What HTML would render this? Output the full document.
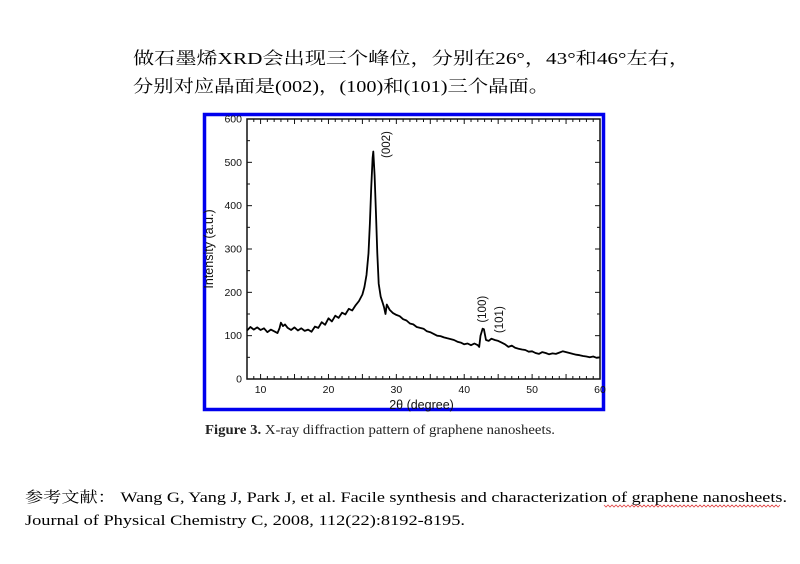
<!DOCTYPE html>
<html><head><meta charset="utf-8"><style>
html,body{margin:0;padding:0;background:#fff;width:800px;height:564px;overflow:hidden}
svg{display:block}
</style></head><body>
<svg id="page" width="800" height="564" viewBox="0 0 800 564" xmlns="http://www.w3.org/2000/svg">
<g font-family="'Liberation Serif','Noto Serif CJK SC','Noto Sans CJK SC',serif" font-size="17" fill="#000">
<text x="133" y="64" textLength="557" lengthAdjust="spacingAndGlyphs">做石墨烯XRD会出现三个峰位，分别在26°，43°和46°左右，</text>
<text x="133" y="92" textLength="416" lengthAdjust="spacingAndGlyphs">分别对应晶面是(002)，(100)和(101)三个晶面。</text>
</g>
<rect x="204.5" y="114.5" width="399" height="295" fill="none" stroke="#0000ee" stroke-width="3.5"/>
<g id="chart"></g>
<text x="205" y="434" font-family="'Liberation Serif',serif" font-size="13.5" fill="#222" textLength="350" lengthAdjust="spacingAndGlyphs"><tspan font-weight="bold">Figure 3.</tspan>  X-ray diffraction pattern of graphene nanosheets.</text>
<g font-family="'Liberation Serif','Noto Serif CJK SC',serif" font-size="15" fill="#000">
<text x="25" y="502" textLength="762" lengthAdjust="spacingAndGlyphs">参考文献：  Wang G, Yang J, Park J, et al. Facile synthesis and characterization of graphene nanosheets.</text>
<text x="25" y="525" textLength="440" lengthAdjust="spacingAndGlyphs">Journal of Physical Chemistry C, 2008, 112(22):8192-8195.</text>
<path d="M604 505 l2 2 l2 -2 l2 2 l2 -2 l2 2 l2 -2 l2 2 l2 -2 l2 2 l2 -2 l2 2 l2 -2 l2 2 l2 -2 l2 2 l2 -2 l2 2 l2 -2 l2 2 l2 -2 l2 2 l2 -2 l2 2 l2 -2 l2 2 l2 -2 l2 2 l2 -2 l2 2 l2 -2 l2 2 l2 -2 l2 2 l2 -2 l2 2 l2 -2 l2 2 l2 -2 l2 2 l2 -2 l2 2 l2 -2 l2 2 l2 -2 l2 2 l2 -2 l2 2 l2 -2 l2 2 l2 -2 l2 2 l2 -2 l2 2 l2 -2 l2 2 l2 -2 l2 2 l2 -2 l2 2 l2 -2 l2 2 l2 -2 l2 2 l2 -2 l2 2 l2 -2 l2 2 l2 -2 l2 2 l2 -2 l2 2 l2 -2 l2 2 l2 -2 l2 2 l2 -2 l2 2 l2 -2 l2 2 l2 -2 l2 2 l2 -2 l2 2 l2 -2 l2 2 l2 -2 l2 2 l2 -2" fill="none" stroke="#e04040" stroke-width="0.8"/>
</g>
</svg>
<script>
const twoTheta = [8,8.5,9,9.5,10,10.5,11,11.5,12,12.5,12.8,13,13.3,13.6,14,14.5,15,15.5,16,16.5,17,17.5,18,18.5,19,19.5,20,20.5,21,21.5,22,22.5,23,23.5,24,24.5,25,25.3,25.6,25.9,26.1,26.3,26.5,26.6,26.8,27,27.2,27.4,27.7,28,28.2,28.4,28.6,29,29.5,30,30.5,31,31.5,32,32.5,33,33.5,34,34.5,35,35.5,36,36.5,37,37.5,38,38.5,39,39.5,40,40.5,41,41.5,42,42.2,42.4,42.7,42.9,43.2,43.6,44,44.5,45,45.5,46,46.5,47,47.5,48,48.5,49,49.5,50,50.5,51,51.5,52,52.5,53,53.5,54,54.5,55,55.5,56,56.5,57,57.5,58,58.5,59,59.5,60];
const intensity = [112,120,114,119,113,117,108,114,110,106,118,130,122,126,118,113,119,112,117,111,114,109,121,118,131,125,140,133,146,141,153,149,162,158,170,180,195,212,240,290,360,440,510,525,470,380,290,220,190,175,165,150,172,160,152,148,145,138,135,128,126,120,118,116,110,108,104,100,99,96,94,92,90,86,84,80,82,78,82,78,74,100,116,115,90,88,93,90,88,84,80,74,77,72,70,68,67,63,64,60,58,62,60,57,59,58,61,64,62,60,58,56,55,53,52,50,52,49,50];
const xTicks = [10,20,30,40,50,60];
const yTicks = [0,100,200,300,400,500,600];
const peakLabels = ['(002)','(100)','(101)'];
const peakPos = [29.1,43.2,45.7];
const peakVal = [510,130,106];

const NS='http://www.w3.org/2000/svg';
const L=247,R=600,T=119,B=379,X0=8,X1=60,Y0=0,Y1=600;
const sx=v=>L+(v-X0)/(X1-X0)*(R-L);
const sy=v=>B-(v-Y0)/(Y1-Y0)*(B-T);
const chart=document.getElementById('chart');
function mk(tag,attrs,parent){const e=document.createElementNS(NS,tag);for(const k in attrs)e.setAttribute(k,attrs[k]);(parent||chart).appendChild(e);return e;}
const FONT="'Liberation Sans',sans-serif";

const frame=mk('rect',{x:L,y:T,width:R-L,height:B-T,fill:'none',stroke:'#111','stroke-width':1.5});



for(let v=X0;v<=X1;v+=1){
  const len=(v%5===0)?5:3;
  const t1=mk('line',{x1:sx(v),x2:sx(v),y1:B,y2:B-len,stroke:'#111','stroke-width':1});
  
  
  const t2=mk('line',{x1:sx(v),x2:sx(v),y1:T,y2:T+len,stroke:'#111','stroke-width':1});
  
  
}
for(let v=0;v<=600;v+=50){
  const len=(v%100===0)?5:3;
  const t1=mk('line',{x1:L,x2:L+len,y1:sy(v),y2:sy(v),stroke:'#111','stroke-width':1});
  
  
  const t2=mk('line',{x1:R,x2:R-len,y1:sy(v),y2:sy(v),stroke:'#111','stroke-width':1});
  
  
}
xTicks.forEach(v=>{
  const t=mk('text',{x:sx(v),y:B+14,'text-anchor':'middle','font-family':FONT,'font-size':10.5,fill:'#111'});
  t.textContent=v;
  
  
});
yTicks.forEach(v=>{
  const t=mk('text',{x:L-5,y:sy(v)+3.5,'text-anchor':'end','font-family':FONT,'font-size':10.5,fill:'#111'});
  t.textContent=v;
  
  
});
const xt=mk('text',{x:(L+R)/2-2,y:B+30,'text-anchor':'middle','font-family':FONT,'font-size':12.5,fill:'#111'});
xt.textContent='2θ (degree)';


const yt=mk('text',{x:0,y:0,'text-anchor':'middle','font-family':FONT,'font-size':12.5,fill:'#111',transform:`translate(213,${(T+B)/2}) rotate(-90)`});
yt.textContent='Intensity (a.u.)';



let d='';
twoTheta.forEach((x,i)=>{d+=(i?'L':'M')+sx(x).toFixed(1)+' '+sy(intensity[i]).toFixed(1)+' ';});
const line=mk('path',{d:d,fill:'none',stroke:'#000','stroke-width':1.8,'stroke-linejoin':'round'});



peakLabels.forEach((lab,i)=>{
  const x=sx(peakPos[i]),y=sy(peakVal[i]);
  const t=mk('text',{x:0,y:0,'font-family':FONT,'font-size':11.5,fill:'#111',transform:`translate(${x},${y}) rotate(-90)`});
  t.textContent=lab;
  
  
});
</script>
</body></html>
